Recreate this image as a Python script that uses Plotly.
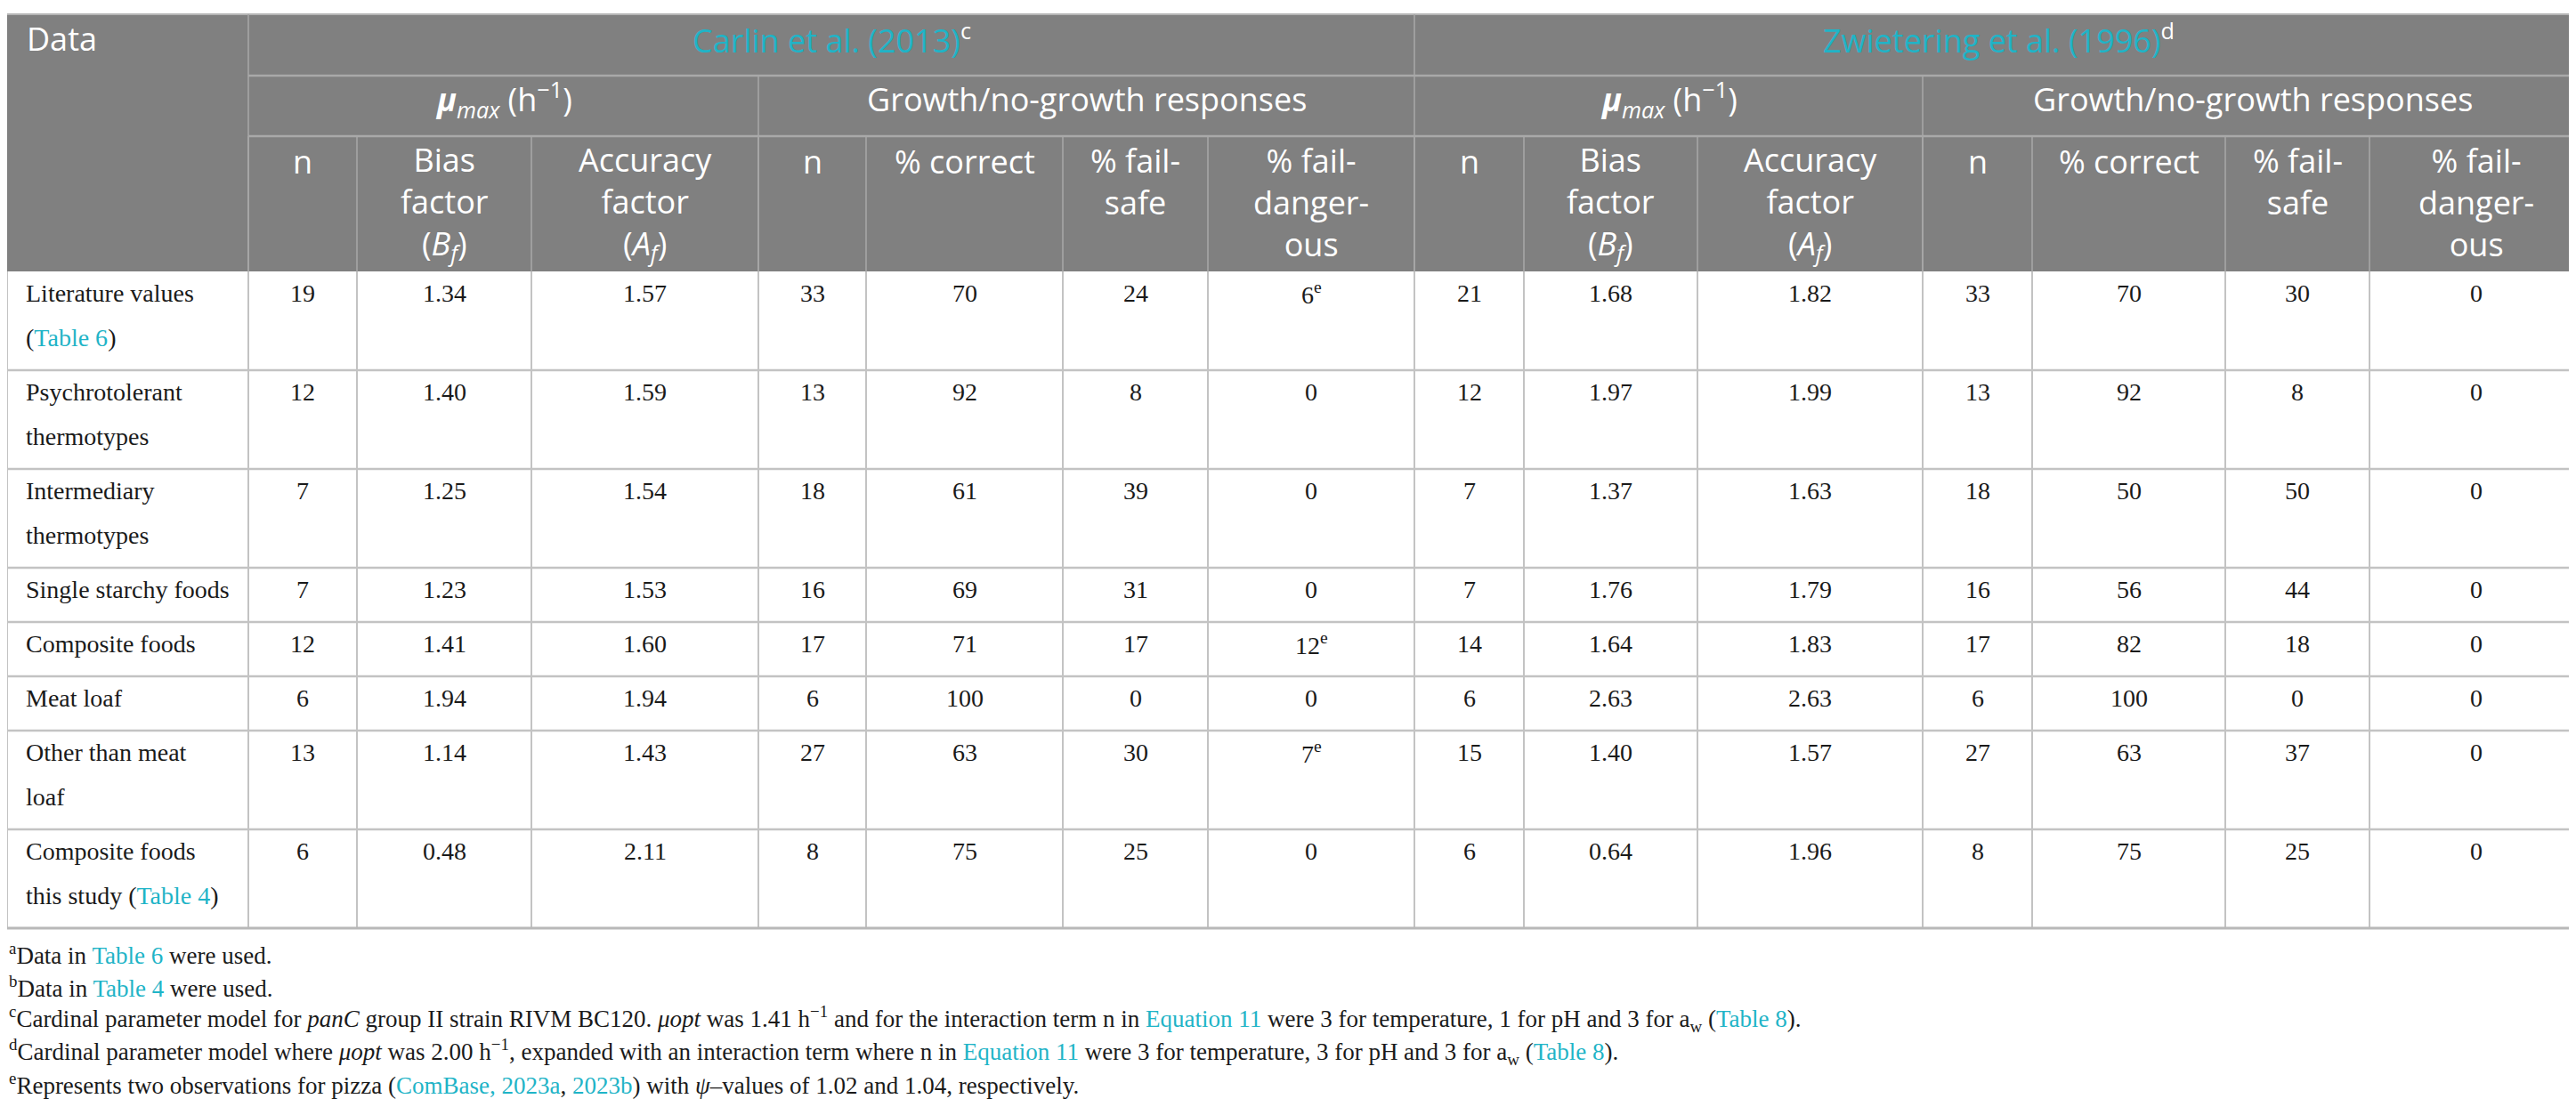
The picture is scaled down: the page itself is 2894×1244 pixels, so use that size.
import plotly.graph_objects as go

TEAL = "#1fb4c7"
HDR_BG = "#808080"
HDR_LINE = "#a9a9a9"
BODY_LINE = "#c3c3c3"
TXT = "#1a1a1a"

def link(t):
    return f"<span style='color:{TEAL}'>{t}</span>"

# ---------------- data ----------------
row_labels = [
    ["Literature values", "(" + link("Table 6") + ")"],
    ["Psychrotolerant", "thermotypes"],
    ["Intermediary", "thermotypes"],
    ["Single starchy foods"],
    ["Composite foods"],
    ["Meat loaf"],
    ["Other than meat", "loaf"],
    ["Composite foods", "this study (" + link("Table 4") + ")"],
]

carlin_n_mu = [19, 12, 7, 7, 12, 6, 13, 6]
carlin_bias = [1.34, 1.40, 1.25, 1.23, 1.41, 1.94, 1.14, 0.48]
carlin_acc = [1.57, 1.59, 1.54, 1.53, 1.60, 1.94, 1.43, 2.11]
carlin_n_gng = [33, 13, 18, 16, 17, 6, 27, 8]
carlin_correct = [70, 92, 61, 69, 71, 100, 63, 75]
carlin_failsafe = [24, 8, 39, 31, 17, 0, 30, 25]
carlin_faildanger = [6, 0, 0, 0, 12, 0, 7, 0]
carlin_faildanger_note = ["e", "", "", "", "e", "", "e", ""]

zw_n_mu = [21, 12, 7, 7, 14, 6, 15, 6]
zw_bias = [1.68, 1.97, 1.37, 1.76, 1.64, 2.63, 1.40, 0.64]
zw_acc = [1.82, 1.99, 1.63, 1.79, 1.83, 2.63, 1.57, 1.96]
zw_n_gng = [33, 13, 18, 16, 17, 6, 27, 8]
zw_correct = [70, 92, 50, 56, 82, 100, 63, 75]
zw_failsafe = [30, 8, 50, 44, 18, 0, 37, 25]
zw_faildanger = [0, 0, 0, 0, 0, 0, 0, 0]

model_titles = [link("Carlin et al. (2013)") + "<sup>c</sup>",
                link("Zwietering et al. (1996)") + "<sup>d</sup>"]
group_titles = ["<b><i>μ</i></b><sub><i>max</i></sub> (h<sup>−1</sup>)",
                "Growth/no-growth responses"]
col_titles = [
    ["n"],
    ["Bias", "factor", "(<i>B</i><sub><i>f</i></sub>)"],
    ["Accuracy", "factor", "(<i>A</i><sub><i>f</i></sub>)"],
    ["n"],
    ["% correct"],
    ["% fail-", "safe"],
    ["% fail-", "danger-", "ous"],
]

footnotes = [
    "<sup>a</sup>Data in " + link("Table 6") + " were used.",
    "<sup>b</sup>Data in " + link("Table 4") + " were used.",
    "<sup>c</sup>Cardinal parameter model for <i>panC</i> group II strain RIVM BC120. <i>μopt</i> was 1.41 h<sup>−1</sup> and for the interaction term n in "
    + link("Equation 11") + " were 3 for temperature, 1 for pH and 3 for a<sub>w</sub> (" + link("Table 8") + ").",
    "<sup>d</sup>Cardinal parameter model where <i>μopt</i> was 2.00 h<sup>−1</sup>, expanded with an interaction term where n in "
    + link("Equation 11") + " were 3 for temperature, 3 for pH and 3 for a<sub>w</sub> (" + link("Table 8") + ").",
    "<sup>e</sup>Represents two observations for pizza (" + link("ComBase, 2023a") + ", " + link("2023b")
    + ") with <i>ψ</i>–values of 1.02 and 1.04, respectively.",
]

# ---------------- layout geometry ----------------
W, H = 2894, 1244
col_edges = [0, 271, 393, 589, 844, 965, 1186, 1349, 1581, 1704, 1899, 2152, 2275, 2492, 2654, 2894]
top = 8
h1, h2, h3 = 77, 145, 297
LINE_H = 50
ROW_PAD = 11
HDR_SIZE = 36
HDR_LH = 1.3 * HDR_SIZE  # plotly's <br> line spacing

row_tops = [h3]
for lab in row_labels:
    row_tops.append(row_tops[-1] + ROW_PAD + LINE_H * len(lab))
table_bottom = row_tops[-1]

HDR_FONT = dict(family="Open Sans", size=HDR_SIZE, color="white")
BODY_FONT = dict(family="Liberation Serif", size=28, color=TXT)
NOTE_FONT = dict(family="Liberation Serif", size=27, color=TXT)

shapes = []
annos = []

def line(x0, y0, x1, y1, color, w):
    shapes.append(dict(type="line", xref="x", yref="y", x0=x0, y0=y0, x1=x1, y1=y1,
                       line=dict(color=color, width=w), layer="above"))

def text(x, y, t, font, anchor="center"):
    annos.append(dict(x=x, y=y, xref="x", yref="y", text=t, showarrow=False,
                      xanchor=anchor, yanchor="middle",
                      align=anchor if anchor != "center" else "center", font=font))

# header background
shapes.append(dict(type="rect", xref="x", yref="y", x0=0, x1=W, y0=top, y1=h3,
                   fillcolor=HDR_BG, line=dict(width=0), layer="below"))
line(0, top, W, top, "#b5b5b5", 2)

# header lines
line(col_edges[1], h1, W, h1, HDR_LINE, 2.5)
line(col_edges[1], h2, W, h2, HDR_LINE, 2.5)
line(col_edges[1], top, col_edges[1], h3, HDR_LINE, 1.5)
line(col_edges[8], top, col_edges[8], h3, HDR_LINE, 1.5)
for i in (4, 11):
    line(col_edges[i], h1, col_edges[i], h3, HDR_LINE, 1.5)
for i in range(1, len(col_edges) - 1):
    line(col_edges[i], h2, col_edges[i], h3, HDR_LINE, 1.5)

# header text
HY = -8
text(20, (top + h1) / 2 + 1 + HY, "Data", HDR_FONT, "left")
for m in range(2):
    c0 = 1 + 7 * m
    text((col_edges[c0] + col_edges[c0 + 7]) / 2, (top + h1) / 2 + 1 + HY, model_titles[m], HDR_FONT)
    text((col_edges[c0] + col_edges[c0 + 3]) / 2, (h1 + h2) / 2 + HY, group_titles[0], HDR_FONT)
    text((col_edges[c0 + 3] + col_edges[c0 + 7]) / 2, (h1 + h2) / 2 + HY, group_titles[1], HDR_FONT)
    for k, lines in enumerate(col_titles):
        xc = (col_edges[c0 + k] + col_edges[c0 + k + 1]) / 2
        yc = 181 + HY + (len(lines) - 1) * HDR_LH / 2
        text(xc, yc, "<br>".join(lines), HDR_FONT)

# body
body_cols = [carlin_n_mu, carlin_bias, carlin_acc, carlin_n_gng, carlin_correct, carlin_failsafe,
             carlin_faildanger, zw_n_mu, zw_bias, zw_acc, zw_n_gng, zw_correct, zw_failsafe, zw_faildanger]
float_cols = {1, 2, 8, 9}
BY = -9

for r, lab in enumerate(row_labels):
    y0 = row_tops[r]
    for j, ln in enumerate(lab):
        text(19, y0 + 33 + LINE_H * j + BY, ln, BODY_FONT, "left")
    for c, vals in enumerate(body_cols):
        v = vals[r]
        s = f"{v:.2f}" if c in float_cols else f"{v}"
        if c == 6 and carlin_faildanger_note[r]:
            s += f"<sup>{carlin_faildanger_note[r]}</sup>"
        xc = (col_edges[c + 1] + col_edges[c + 2]) / 2
        text(xc, y0 + 33 + BY, s, BODY_FONT)

# body grid
for i in range(1, len(col_edges) - 1):
    line(col_edges[i], h3, col_edges[i], table_bottom, BODY_LINE, 2)
line(0, h3, 0, table_bottom, BODY_LINE, 2)
for y in row_tops[1:-1]:
    line(0, y, W, y, BODY_LINE, 2.5)
line(0, table_bottom, W, table_bottom, "#b8b8b8", 3)

# footnotes
for k, fn in enumerate(footnotes):
    text(0, 1064 + 36.6 * k, fn, NOTE_FONT, "left")

fig = go.Figure()
fig.update_layout(
    width=W, height=H,
    margin=dict(l=0, r=0, t=0, b=0),
    paper_bgcolor="white", plot_bgcolor="white",
    xaxis=dict(range=[0, W], visible=False, fixedrange=True),
    yaxis=dict(range=[H, 0], visible=False, fixedrange=True),
    shapes=shapes, annotations=annos, showlegend=False,
)
fig.write_html("out.html", config={"displayModeBar": False})
